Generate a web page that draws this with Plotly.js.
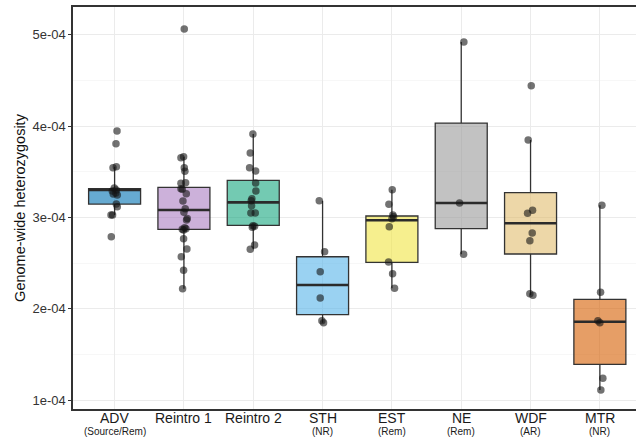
<!DOCTYPE html>
<html>
<head>
<meta charset="utf-8">
<script src="https://cdn.plot.ly/plotly-3.0.1.min.js"></script>
<style>html,body{margin:0;padding:0;overflow:hidden;background:#fff;}</style>
</head>
<body>
<div id="chart" style="width:636px;height:443px;"></div>
<script>
// ---- Data ----
const categories = ['ADV', 'Reintro 1', 'Reintro 2', 'STH', 'EST', 'NE', 'WDF', 'MTR'];
const subLabels = ['(Source/Rem)', '', '', '(NR)', '(Rem)', '(Rem)', '(AR)', '(NR)'];
const fillColors = ['rgba(0,114,178,0.6)', 'rgba(163,113,188,0.55)', 'rgba(0,158,115,0.55)',
  'rgba(86,180,233,0.6)', 'rgba(240,228,66,0.6)', 'rgba(153,153,153,0.6)',
  'rgba(222,182,97,0.55)', 'rgba(213,94,0,0.6)'];

// individual samples (heterozygosity) and their horizontal jitter (category units)
const advValues = [3.945e-4, 3.806e-4, 3.555e-4, 3.544e-4, 3.321e-4, 3.299e-4, 3.288e-4, 3.266e-4, 3.245e-4, 3.256e-4, 3.146e-4, 3.117e-4, 3.026e-4, 3.026e-4, 2.788e-4];
const advJitter = [0.035, 0.02, 0.025, -0.023, -0.004, 0.025, -0.033, 0.017, 0.039, -0.019, 0.025, 0.039, -0.052, -0.029, -0.048];

const reintro1Values = [5.062e-4, 3.664e-4, 3.653e-4, 3.544e-4, 3.504e-4, 3.373e-4, 3.379e-4, 3.314e-4, 3.307e-4, 3.259e-4, 3.179e-4, 3.095e-4, 3.055e-4, 2.989e-4, 2.971e-4, 2.887e-4, 2.869e-4, 2.876e-4, 2.861e-4, 2.766e-4, 2.653e-4, 2.569e-4, 2.420e-4, 2.219e-4];
const reintro1Jitter = [0.005, -0.005, -0.043, 0.005, 0.014, -0.043, 0.024, -0.043, -0.024, 0.034, -0.014, 0.019, 0, 0.048, 0.038, 0.010, -0.024, 0.029, -0.005, -0.005, 0.043, -0.038, -0.005, -0.019];

const reintro2Values = [3.912e-4, 3.704e-4, 3.544e-4, 3.507e-4, 3.376e-4, 3.288e-4, 3.204e-4, 3.182e-4, 3.127e-4, 3.048e-4, 3.048e-4, 2.909e-4, 2.902e-4, 2.891e-4, 2.697e-4, 2.650e-4];
const reintro2Jitter = [-0.005, -0.043, -0.053, 0.034, 0.034, 0.038, -0.019, -0.029, -0.024, -0.034, 0.029, -0.005, 0.019, -0.014, 0.019, -0.043];

const sthValues = [3.182e-4, 2.624e-4, 2.405e-4, 2.117e-4, 1.868e-4, 1.846e-4];
const sthJitter = [-0.048, 0.029, -0.034, -0.034, -0.010, 0.014];

const estValues = [3.303e-4, 3.143e-4, 3.026e-4, 3.007e-4, 2.985e-4, 2.898e-4, 2.511e-4, 2.383e-4, 2.223e-4];
const estJitter = [0.005, -0.043, 0.014, 0.024, 0, -0.038, -0.048, 0.010, 0.038];

const neValues = [4.920e-4, 3.157e-4, 2.595e-4];
const neJitter = [0.038, -0.024, 0.034];

const wdfValues = [4.441e-4, 3.847e-4, 3.077e-4, 3.044e-4, 2.829e-4, 2.745e-4, 2.164e-4, 2.146e-4];
const wdfJitter = [0.010, -0.034, 0.029, -0.043, 0.024, -0.010, -0.010, 0.034];

const mtrValues = [3.132e-4, 2.179e-4, 1.868e-4, 1.846e-4, 1.238e-4, 1.109e-4];
const mtrJitter = [0.029, 0.010, -0.029, 0, 0.043, 0.014];

// box statistics per category
const boxQ1 = [3.146e-4, 2.869e-4, 2.912e-4, 1.934e-4, 2.507e-4, 2.876e-4, 2.599e-4, 1.391e-4];
const boxMedian = [3.300e-4, 3.080e-4, 3.164e-4, 2.259e-4, 2.968e-4, 3.157e-4, 2.935e-4, 1.857e-4];
const boxQ3 = [3.314e-4, 3.329e-4, 3.405e-4, 2.569e-4, 3.015e-4, 4.033e-4, 3.270e-4, 2.103e-4];
const boxLower = [3.026e-4, 2.219e-4, 2.650e-4, 1.846e-4, 2.223e-4, 2.595e-4, 2.146e-4, 1.109e-4];
const boxUpper = [3.555e-4, 3.664e-4, 3.912e-4, 3.182e-4, 3.303e-4, 4.920e-4, 3.847e-4, 3.132e-4];

const yTickVals = [1e-4, 2e-4, 3e-4, 4e-4, 5e-4];
const yTickText = ['1e-04', '2e-04', '3e-04', '4e-04', '5e-04'];

// ---- Build traces ----
const groupValues = [advValues, reintro1Values, reintro2Values, sthValues, estValues, neValues, wdfValues, mtrValues];
const groupJitter = [advJitter, reintro1Jitter, reintro2Jitter, sthJitter, estJitter, neJitter, wdfJitter, mtrJitter];
const BOX_W = 0.75;
const traces = [];

categories.forEach((c, i) => {
  traces.push({
    type: 'box', name: c, x: [i],
    q1: [boxQ1[i]], median: [boxMedian[i]], q3: [boxQ3[i]],
    lowerfence: [boxLower[i]], upperfence: [boxUpper[i]],
    width: BOX_W, whiskerwidth: 0, boxpoints: false,
    fillcolor: fillColors[i], line: { color: '#333333', width: 1.3 },
    hoverinfo: 'skip', showlegend: false
  });
});
// thicker median bars
categories.forEach((c, i) => {
  traces.push({
    type: 'scatter', mode: 'lines',
    x: [i - BOX_W / 2, i + BOX_W / 2], y: [boxMedian[i], boxMedian[i]],
    line: { color: '#2b2b2b', width: 2.6 }, hoverinfo: 'skip', showlegend: false
  });
});
// jittered points
categories.forEach((c, i) => {
  traces.push({
    type: 'scatter', mode: 'markers',
    x: groupJitter[i].map(j => i + j), y: groupValues[i],
    marker: { color: 'rgba(20,20,20,0.6)', size: 7.5, line: { width: 0 } },
    hoverinfo: 'skip', showlegend: false
  });
});

// category labels (main line + smaller status line), placed under the axis
const annotations = [];
categories.forEach((c, i) => {
  annotations.push({
    xref: 'x', yref: 'paper', x: i, y: 0, yanchor: 'top', xanchor: 'center',
    yshift: 1, text: c, showarrow: false,
    font: { size: 14, color: '#1a1a1a' }
  });
  if (subLabels[i]) {
    annotations.push({
      xref: 'x', yref: 'paper', x: i, y: 0, yanchor: 'top', xanchor: 'center',
      yshift: -15, text: subLabels[i], showarrow: false,
      font: { size: 10, color: '#1a1a1a' }
    });
  }
});

const layout = {
  width: 636, height: 443,
  margin: { l: 73, r: 0, t: 7, b: 34, pad: 0 },
  paper_bgcolor: '#ffffff', plot_bgcolor: '#ffffff',
  font: { family: 'Liberation Sans, Arial, sans-serif', color: '#222222' },
  boxmode: 'overlay',
  showlegend: false,
  annotations: annotations,
  xaxis: {
    type: 'linear', range: [-0.6, 7.521],
    tickvals: categories.map((c, i) => i), showticklabels: false,
    showgrid: true, gridcolor: '#ebebeb', gridwidth: 1,
    zeroline: false, showline: true, linecolor: '#333333', linewidth: 1.6, mirror: true,
    ticks: ''
  },
  yaxis: {
    range: [0.9014e-4, 5.304e-4],
    tickvals: yTickVals, ticktext: yTickText,
    tickfont: { size: 13, color: '#333333' },
    showgrid: true, gridcolor: '#ebebeb', gridwidth: 1,
    minor: { dtick: 0.5e-4, tick0: 0.5e-4, showgrid: true, gridcolor: '#f3f3f3', gridwidth: 0.7 },
    zeroline: false, showline: true, linecolor: '#333333', linewidth: 1.6,
    ticks: 'outside', ticklen: 3, tickcolor: '#333333',
    title: { text: 'Genome-wide heterozygosity', font: { size: 14.5, color: '#111111' }, standoff: 3 }
  }
};

Plotly.newPlot('chart', traces, layout, { displayModeBar: false, staticPlot: true });
</script>
</body>
</html>
